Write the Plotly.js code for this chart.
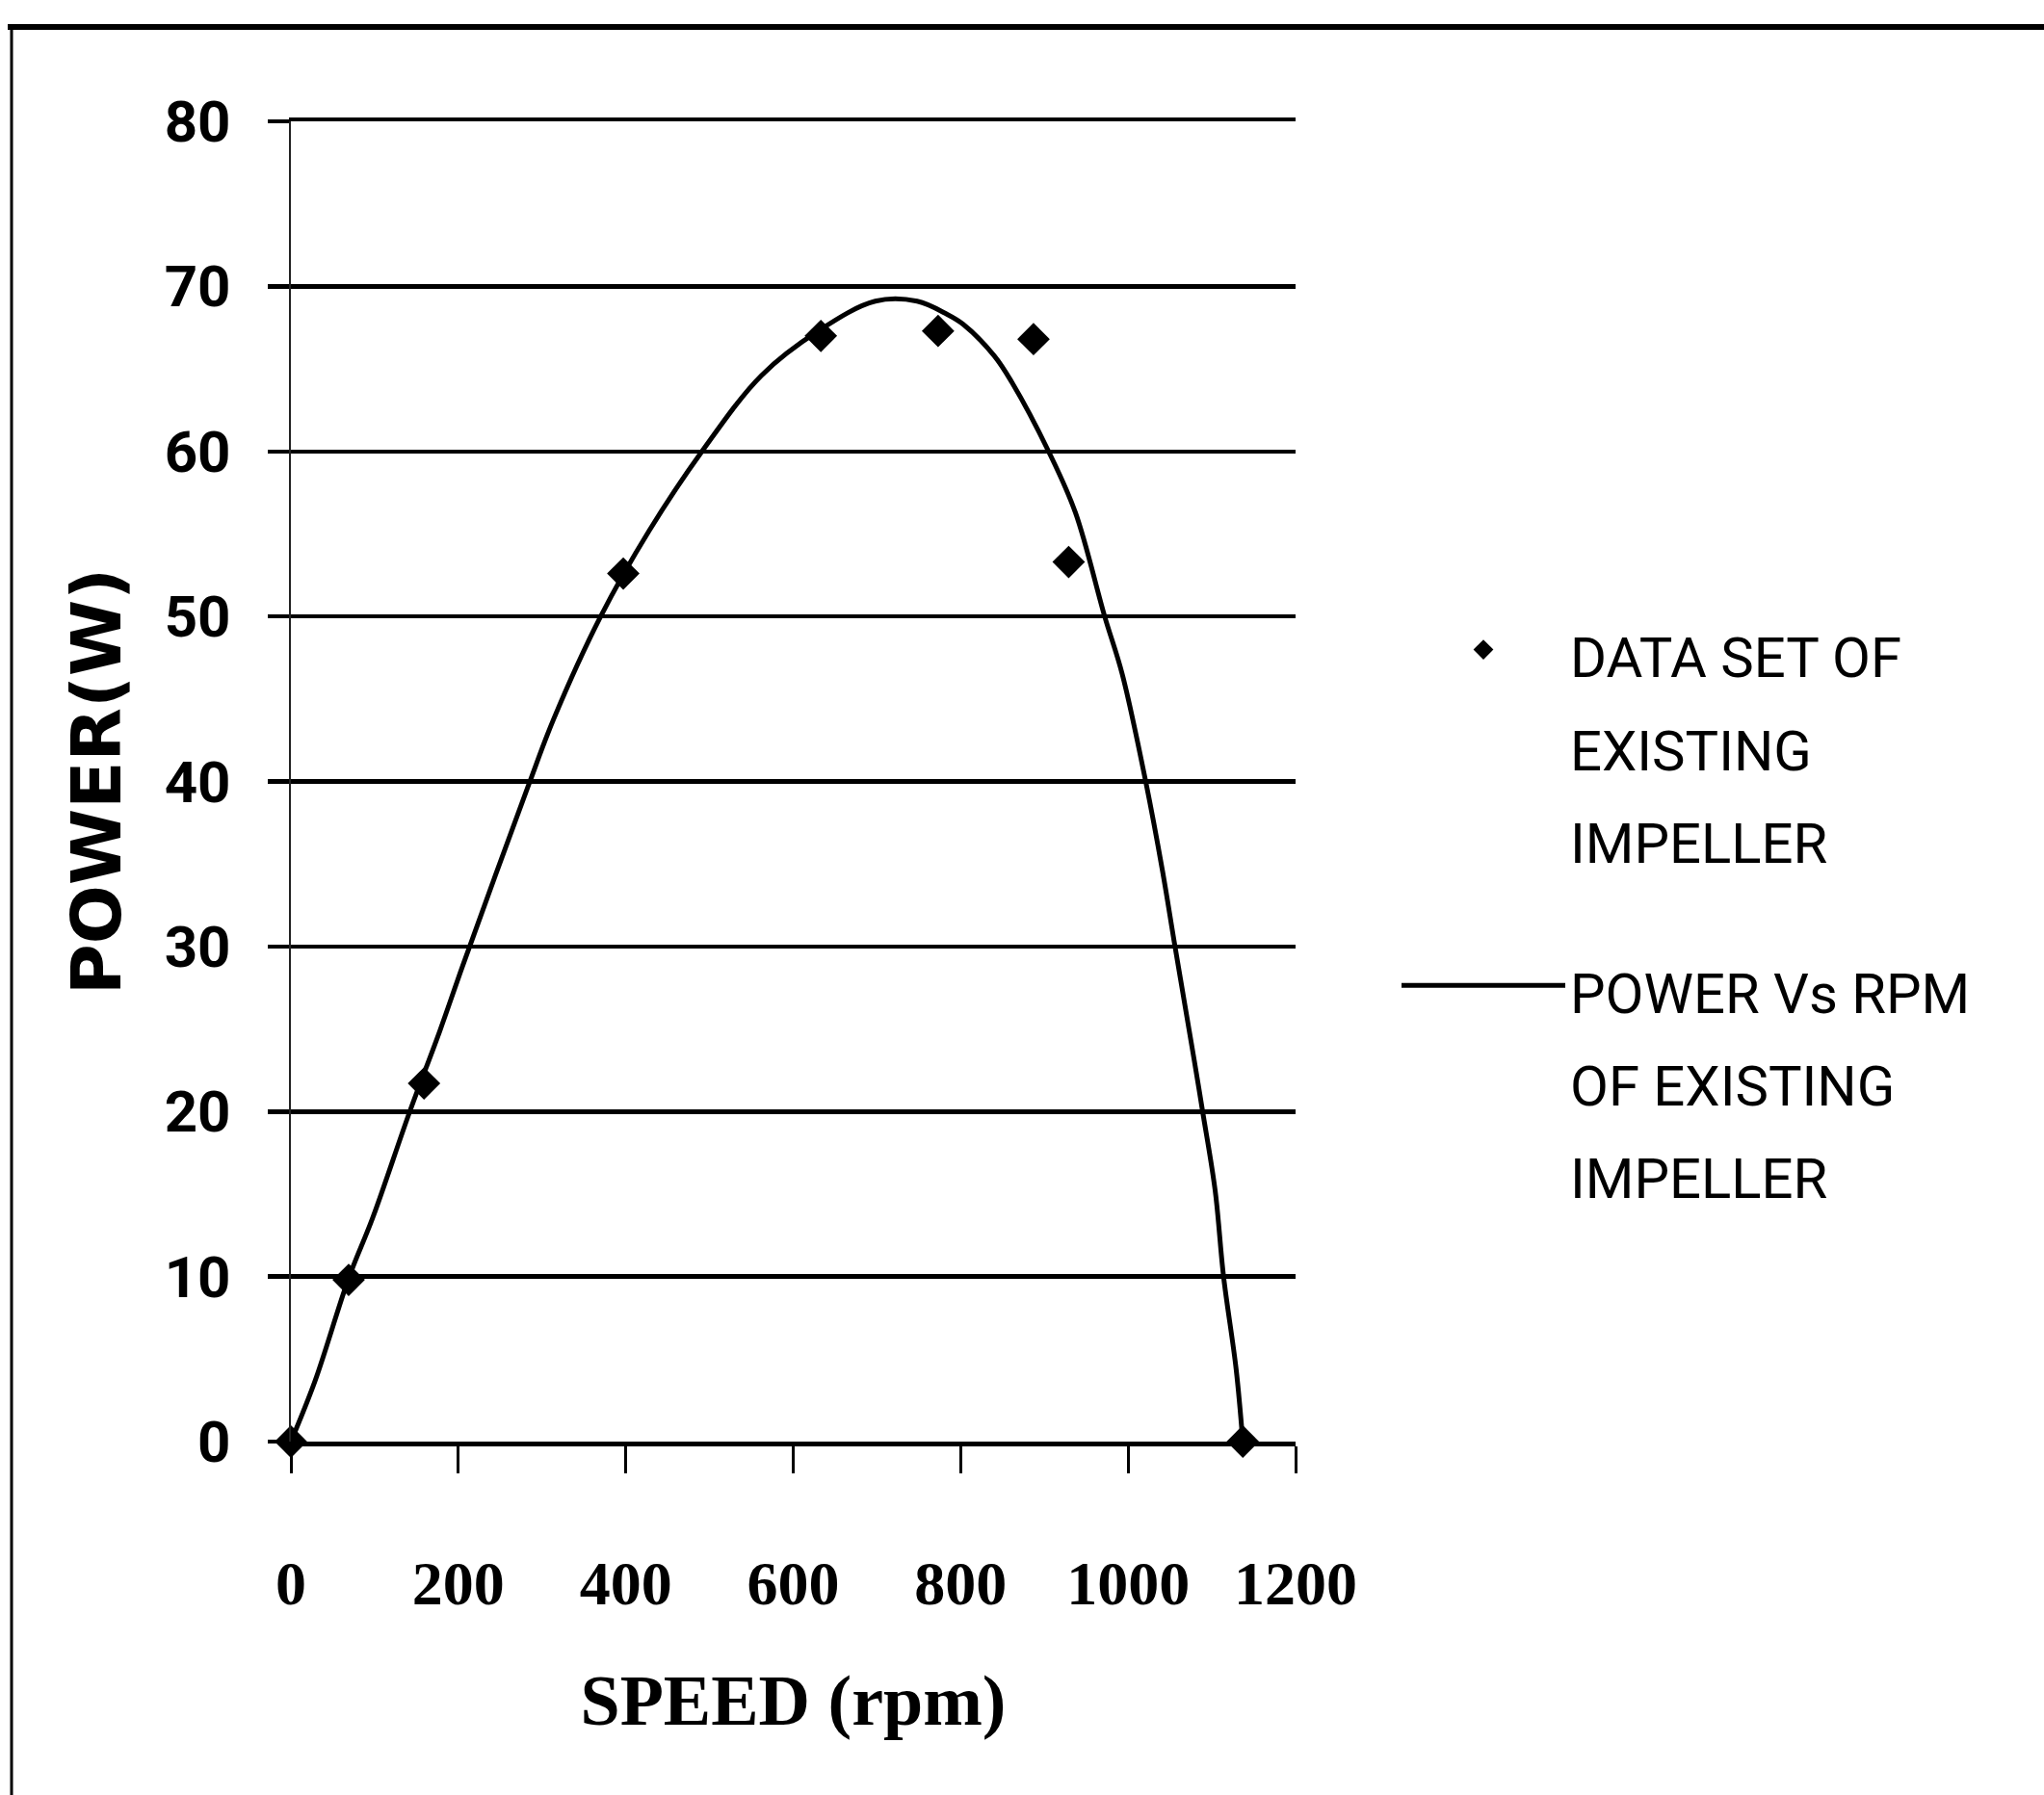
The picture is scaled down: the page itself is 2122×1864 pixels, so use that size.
<!DOCTYPE html>
<html>
<head>
<meta charset="utf-8">
<script src="https://cdn.plot.ly/plotly-3.0.1.min.js"></script>
<style>html,body{margin:0;padding:0;background:#fff;}</style>
</head>
<body>
<div id="chart" style="width:2122px;height:1864px;"></div>
<script>
// ---- data ----
const datasetSpeed = [0, 69, 159, 397, 633, 773, 887, 929, 1137];
const datasetPower = [0, 9.8, 21.7, 52.6, 67.0, 67.3, 66.8, 53.3, 0];

const curveSpeed = [0, 29, 69, 98, 142, 178, 205, 284, 314, 370, 428, 491, 562, 630, 698, 748, 784, 803, 840, 861, 905, 937, 972, 993, 1021, 1041, 1056, 1079, 1089, 1104, 1114, 1129, 1137];
const curvePower = [0, 3.7, 9.9, 13.6, 20, 24.9, 28.8, 39.8, 43.8, 50, 55.2, 60, 64.6, 67.3, 69.1, 69.1, 68.3, 67.7, 65.8, 64.2, 60, 56.3, 50, 46.5, 40, 34.6, 30, 23.1, 20, 15.2, 10, 4.4, 0];

const xTicks = [0, 200, 400, 600, 800, 1000, 1200];
const yTicks = [0, 10, 20, 30, 40, 50, 60, 70, 80];

const legendDataset = ['DATA SET OF', 'EXISTING', 'IMPELLER'];
const legendCurve = ['POWER Vs RPM', 'OF EXISTING', 'IMPELLER'];

const xTitle = 'SPEED (rpm)';
const yTitle = 'POWER(W)';

// ---- layout constants (pixels) ----
const W = 2122, H = 1864;
const M = {l: 302, r: 777, t: 126, b: 367};
const PW = W - M.l - M.r, PH = H - M.t - M.b;
const px2x = p => (p - M.l) / PW;
const px2y = p => (H - M.b - p) / PH;

const sans = "'Roboto', sans-serif";
const wrap = lines => lines.map(s => '<span style="font-size:58px">' + s + '</span>').join('<br>');

const traces = [
  {
    x: datasetSpeed, y: datasetPower,
    type: 'scatter', mode: 'markers',
    name: wrap(legendDataset), legendgroup: 'a',
    marker: {symbol: 'diamond', size: 26, color: '#000'},
    cliponaxis: false
  },
  {
    x: curveSpeed, y: curvePower,
    type: 'scatter', mode: 'lines',
    name: wrap(legendCurve), legendgroup: 'b',
    line: {color: '#000', width: 5, shape: 'spline', smoothing: 1},
    cliponaxis: false
  }
];

const layout = {
  width: W, height: H,
  margin: M,
  paper_bgcolor: '#fff', plot_bgcolor: '#fff',
  showlegend: true,
  xaxis: {
    range: [0, 1200], tickvals: xTicks, ticktext: xTicks.map(String),
    showgrid: false, zeroline: false,
    showline: true, mirror: true, linecolor: '#000', linewidth: 4.5,
    ticks: 'outside', ticklen: 28, tickwidth: 3, tickcolor: '#000',
    ticklabelstandoff: 60,
    tickfont: {family: "'Liberation Serif', serif", size: 64, color: '#000', weight: 'bold'},
    title: {text: xTitle, standoff: 61,
            font: {family: "'Liberation Serif', serif", size: 74, color: '#000', weight: 'bold'}},
    automargin: false, fixedrange: true
  },
  yaxis: {
    range: [0, 80], tickvals: yTicks, ticktext: yTicks.map(String),
    showgrid: true, gridcolor: '#000', gridwidth: 4.5,
    zeroline: false,
    showline: true, linecolor: '#222', linewidth: 2.5,
    ticks: 'outside', ticklen: 22, tickwidth: 4.5, tickcolor: '#000',
    ticklabelstandoff: 26,
    tickfont: {family: sans, size: 60, color: '#000', weight: 'bold'},
    title: {text: yTitle, standoff: 22,
            font: {family: "'DejaVu Sans', sans-serif", size: 72, color: '#000', weight: 'bold'}},
    automargin: false, fixedrange: true
  },
  legend: {
    x: px2x(1450), y: px2y(620), xanchor: 'left', yanchor: 'top',
    font: {family: sans, size: 74, color: '#000'},
    itemwidth: 170, tracegroupgap: 57, valign: 'top',
    bgcolor: 'rgba(0,0,0,0)', borderwidth: 0
  },
  shapes: [
    {type: 'line', xref: 'paper', yref: 'paper',
     x0: px2x(8), x1: px2x(W + 10), y0: px2y(28), y1: px2y(28),
     line: {color: '#000', width: 6}},
    {type: 'line', xref: 'paper', yref: 'paper',
     x0: px2x(12), x1: px2x(12), y0: px2y(25), y1: px2y(H + 10),
     line: {color: '#000', width: 3}}
  ]
};

Plotly.newPlot('chart', traces, layout, {displayModeBar: false, staticPlot: true});
</script>
</body>
</html>
